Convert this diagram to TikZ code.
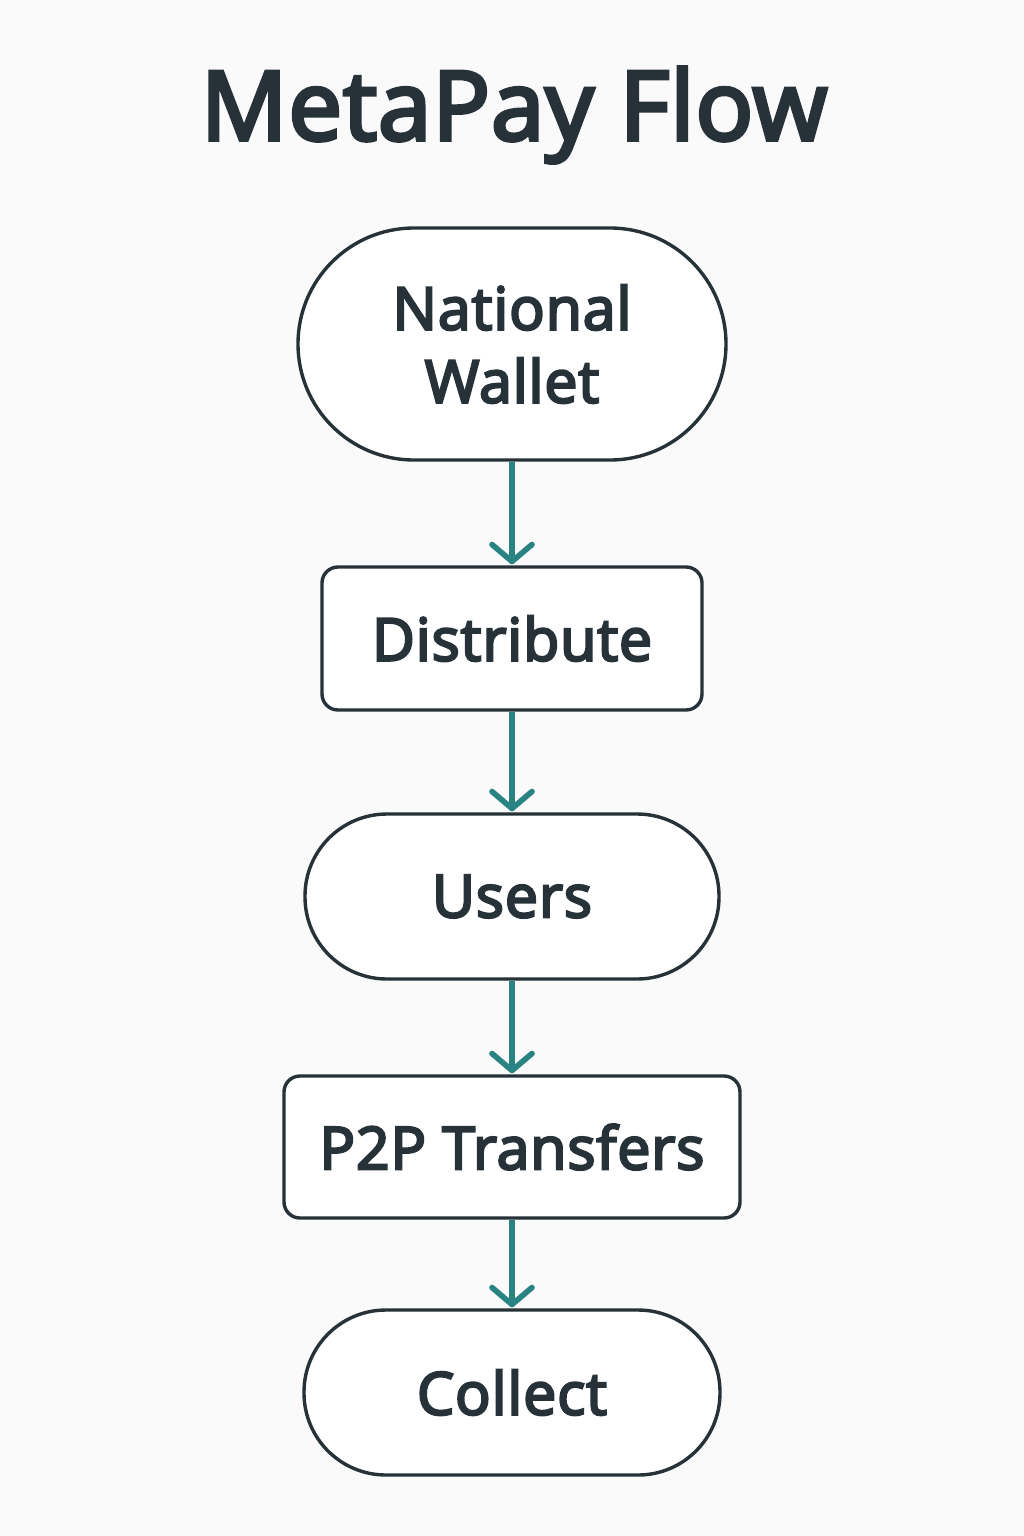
\documentclass[tikz,border=0pt]{standalone}
\usepackage{fontspec}
\setmainfont{Open Sans}
\usetikzlibrary{arrows.meta}
\definecolor{ink}{HTML}{263238}
\definecolor{teal2}{HTML}{2A8383}
\definecolor{bg}{HTML}{FAFAFA}
\begin{document}
\begin{tikzpicture}[x=1pt,y=-1pt,
  box/.style={draw=ink, line width=3.4pt, fill=white, text=ink, align=center,
    font=\fontsize{59}{73}\selectfont\addfontfeature{FakeBold=4,LetterSpace=1.5}, inner sep=0pt},
  stadium/.style={box, rounded corners=#1},
  rbox/.style={box, rounded corners=16pt},
  flow/.style={draw=teal2, line width=5.6pt, -{Straight Barb[length=17pt,width=40pt,line width=5.6pt,round]}, shorten >=1pt}
]
\useasboundingbox[fill=bg] (0,0) rectangle (1024,1536);
\node[text=ink, font=\fontsize{96}{100}\selectfont\addfontfeature{FakeBold=4,LetterSpace=1}, anchor=base] (title) at (514,140) {MetaPay Flow};
\node[stadium=116pt, minimum width=428pt, minimum height=232pt] (nw) at (512,344) {National\\Wallet};
\node[rbox, minimum width=380pt, minimum height=143pt] (dist) at (512,638.5) {Distribute};
\node[stadium=82pt, minimum width=414pt, minimum height=165pt] (users) at (512,896.5) {Users};
\node[rbox, minimum width=456pt, minimum height=142pt] (p2p) at (512,1147) {P2P Transfers};
\node[stadium=82pt, minimum width=416pt, minimum height=165pt] (coll) at (512,1392.5) {Collect};
\draw[flow] (nw) -- (dist);
\draw[flow] (dist) -- (users);
\draw[flow] (users) -- (p2p);
\draw[flow] (p2p) -- (coll);
\end{tikzpicture}
\end{document}
